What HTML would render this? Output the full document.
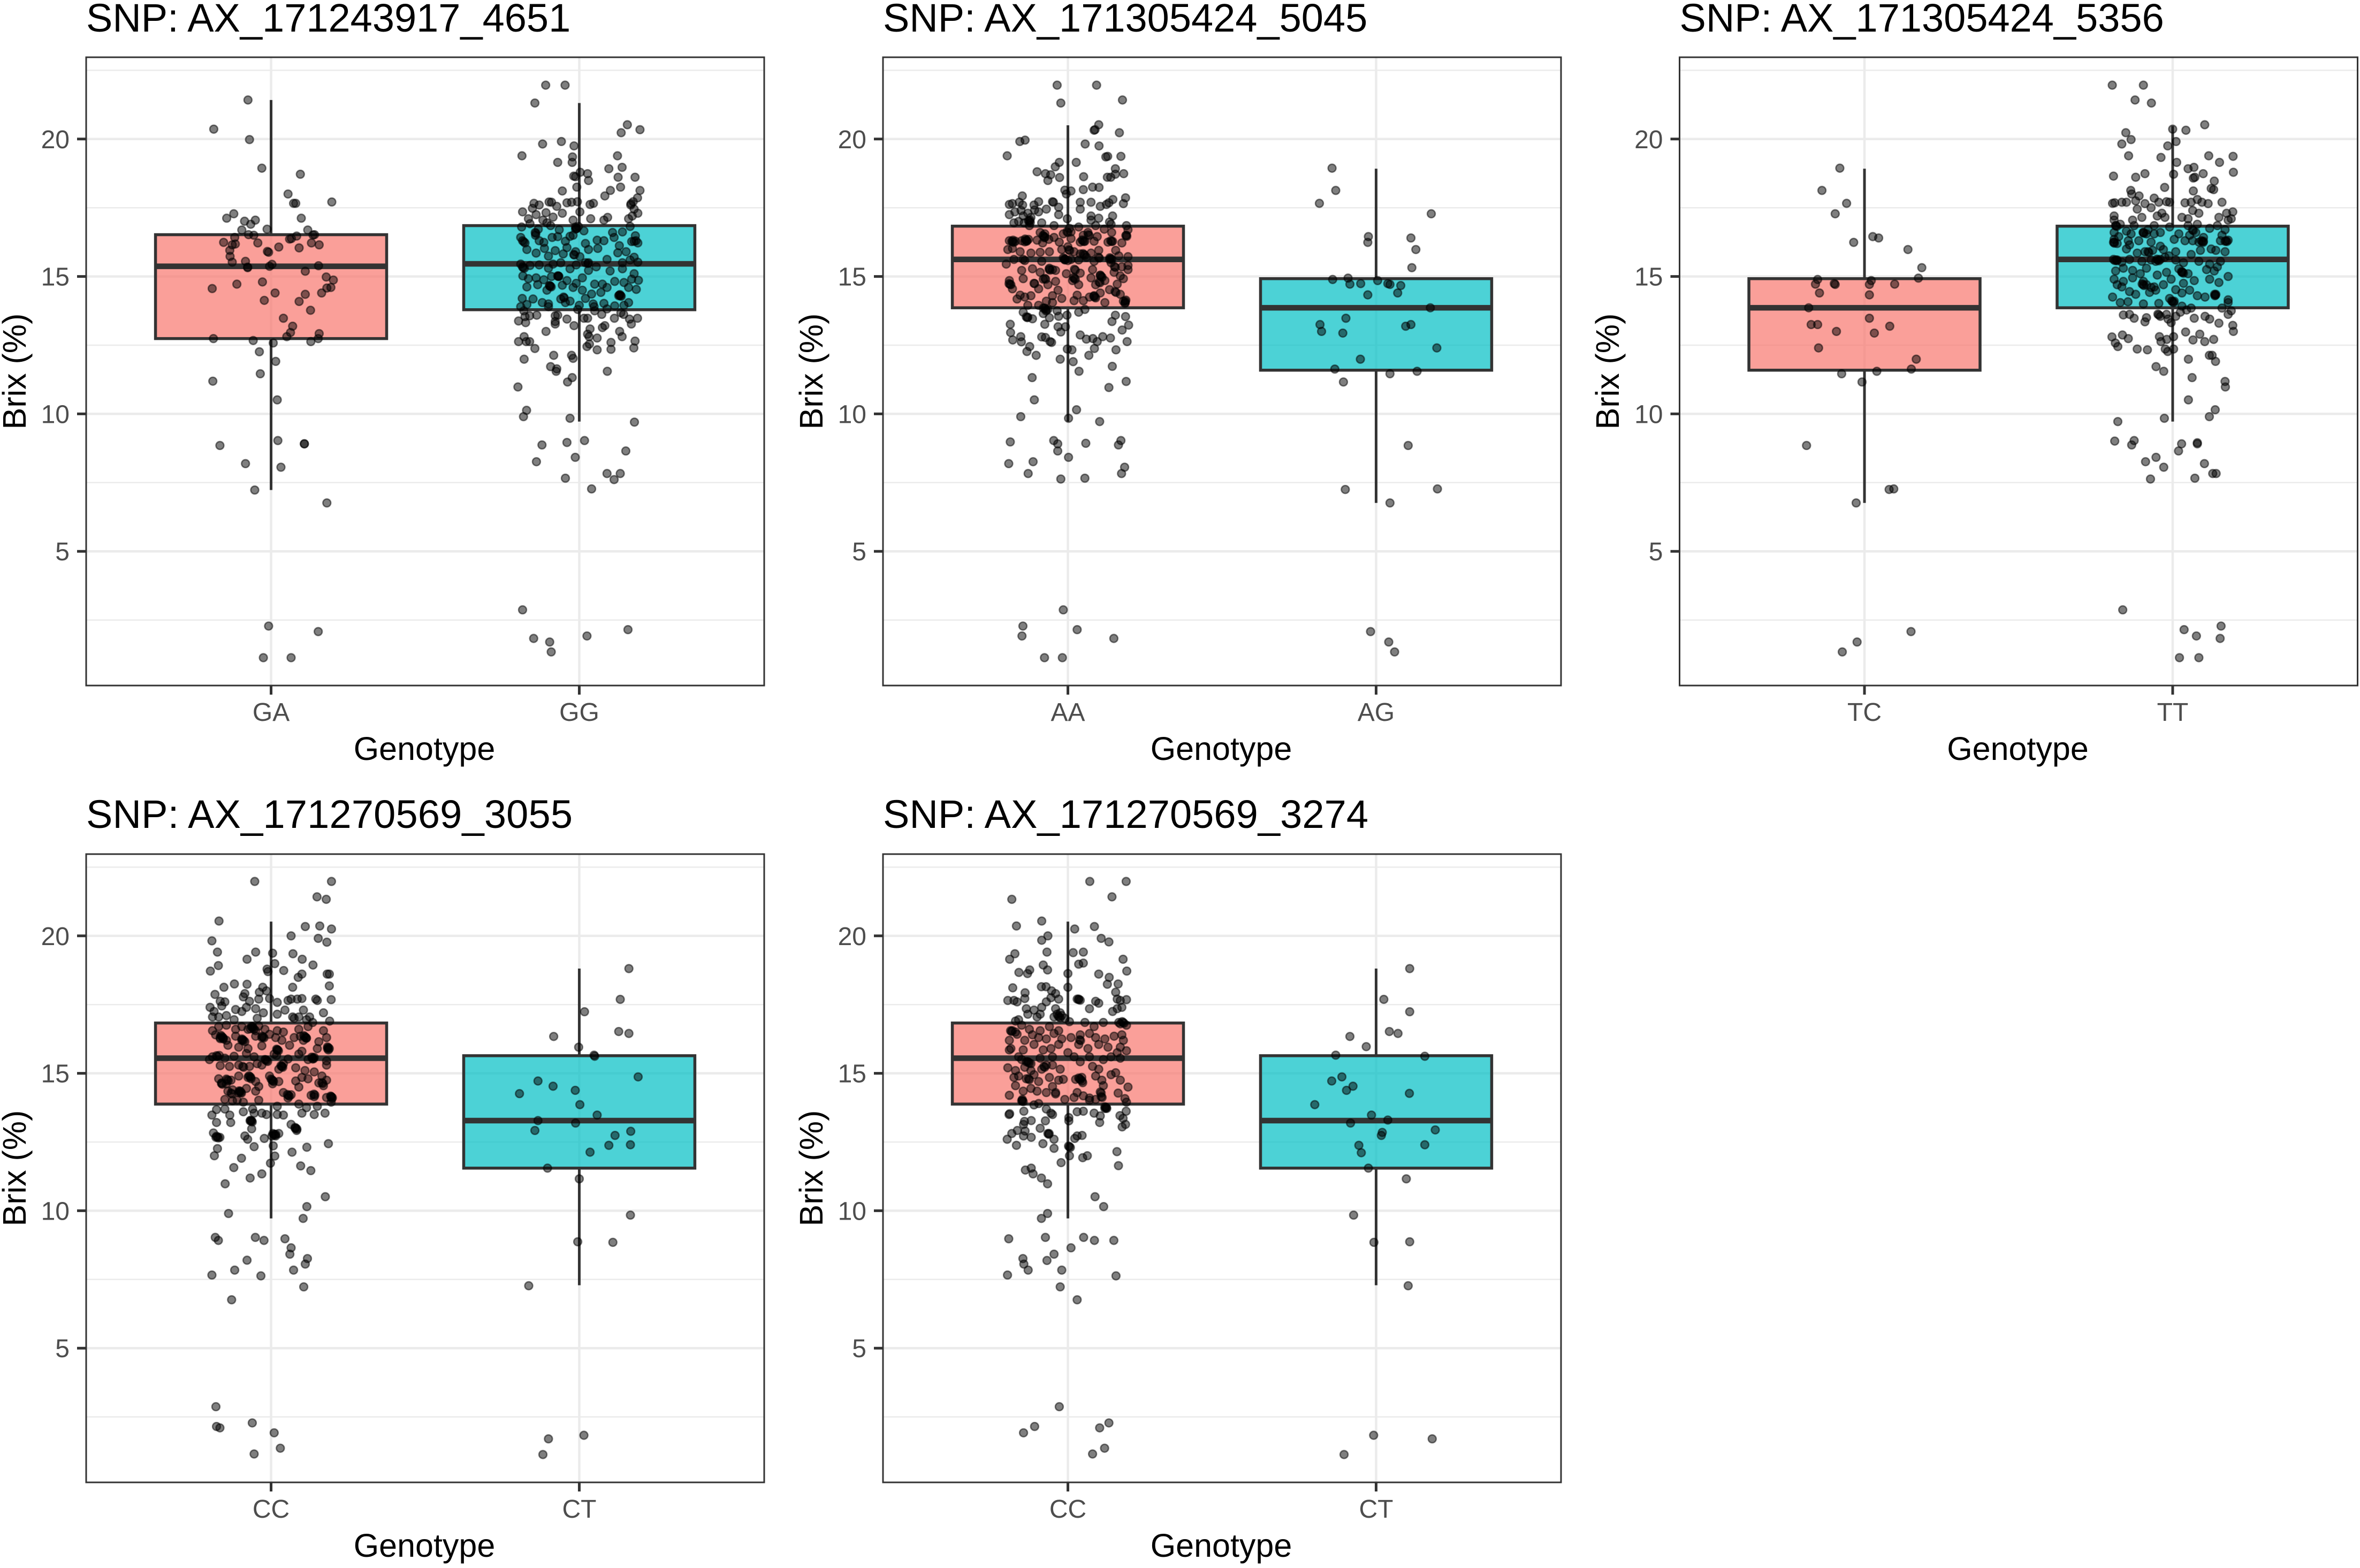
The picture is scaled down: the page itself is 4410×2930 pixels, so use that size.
<!DOCTYPE html>
<html lang="en">
<head>
<meta charset="utf-8">
<title>Brix by genotype for five SNPs</title>
<style>
html,body{margin:0;padding:0;background:#fff;}
svg{display:block;font-family:"Liberation Sans",Arial,sans-serif;}
.title{font-size:74px;fill:#000;}
.axis-title{font-size:61px;fill:#000;}
.tick-label{font-size:48px;fill:#4D4D4D;}
</style>
</head>
<body>
<svg id="chart" xmlns="http://www.w3.org/2000/svg" width="4410" height="2930" viewBox="0 0 4410 2930">
<rect x="0" y="0" width="4410" height="2930" fill="#ffffff"/>

<g>
  <g id="marks-0"></g>
  <text class="title" x="161" y="59">SNP: AX_171243917_4651</text>
  <text class="axis-title" x="793" y="1420" text-anchor="middle">Genotype</text>
  <text class="axis-title" transform="translate(48 694) rotate(-90)" text-anchor="middle">Brix (%)</text>
</g>
<g>
  <g id="marks-1"></g>
  <text class="title" x="1650" y="59">SNP: AX_171305424_5045</text>
  <text class="axis-title" x="2282" y="1420" text-anchor="middle">Genotype</text>
  <text class="axis-title" transform="translate(1537 694) rotate(-90)" text-anchor="middle">Brix (%)</text>
</g>
<g>
  <g id="marks-2"></g>
  <text class="title" x="3138.5" y="59">SNP: AX_171305424_5356</text>
  <text class="axis-title" x="3770.5" y="1420" text-anchor="middle">Genotype</text>
  <text class="axis-title" transform="translate(3025 694) rotate(-90)" text-anchor="middle">Brix (%)</text>
</g>
<g>
  <g id="marks-3"></g>
  <text class="title" x="161" y="1547" textLength="909" lengthAdjust="spacing">SNP: AX_171270569_3055</text>
  <text class="axis-title" x="793" y="2909" text-anchor="middle">Genotype</text>
  <text class="axis-title" transform="translate(48 2183) rotate(-90)" text-anchor="middle">Brix (%)</text>
</g>
<g>
  <g id="marks-4"></g>
  <text class="title" x="1650" y="1547" textLength="907" lengthAdjust="spacing">SNP: AX_171270569_3274</text>
  <text class="axis-title" x="2282" y="2909" text-anchor="middle">Genotype</text>
  <text class="axis-title" transform="translate(1537 2183) rotate(-90)" text-anchor="middle">Brix (%)</text>
</g>
</svg>

<script>
// ---------- axis labels ----------
const yTickValues = [5, 10, 15, 20];
const yMinorValues = [2.5, 7.5, 12.5, 17.5, 22.5];
const categoriesP1 = ['GA', 'GG'];
const categoriesP2 = ['AA', 'AG'];
const categoriesP3 = ['TC', 'TT'];
const categoriesP4 = ['CC', 'CT'];
const categoriesP5 = ['CC', 'CT'];

// ---------- box statistics: whisker low, Q1, median, Q3, whisker high ----------
const statsGA = [7.23, 12.74, 15.37, 16.52, 21.42];
const statsGG = [9.72, 13.79, 15.46, 16.85, 21.31];
const statsAA = [9.72, 13.86, 15.62, 16.83, 20.5];
const statsAG = [6.76, 11.59, 13.86, 14.92, 18.92];
const statsTC = [6.76, 11.59, 13.86, 14.92, 18.92];
const statsTT = [9.72, 13.86, 15.62, 16.83, 20.47];
const statsCC1 = [9.72, 13.88, 15.55, 16.83, 20.52];
const statsCT1 = [7.29, 11.55, 13.28, 15.64, 18.81];
const statsCC2 = [9.72, 13.88, 15.55, 16.83, 20.52];
const statsCT2 = [7.29, 11.55, 13.28, 15.64, 18.81];

// ---------- jittered observations: [horizontal jitter in category units, Brix %] ----------
const pointsGA = [[-.075,21.42],[-.186,20.36],[-.07,19.98],[-.03,18.94],[.095,18.72],[.055,18],[.073,17.66],[.08,17.66],[.197,17.71],[-.144,17.12],[-.121,17.28],[-.086,17.01],[-.051,17.05],[-.066,16.9],[.098,17.12],[-.095,16.69],[-.013,16.72],[.119,16.69],[.141,16.52],[.136,16.51],[-.073,16.52],[-.056,16.5],[.083,16.47],[.06,16.36],[.066,16.38],[-.118,16.42],[-.154,16.24],[-.126,16.15],[-.116,16.18],[-.043,16.22],[.025,16.07],[.131,16.22],[.156,16.15],[.091,16.04],[-.012,15.91],[-.008,15.88],[-.134,15.95],[-.133,15.73],[-.126,15.52],[-.083,15.55],[.003,15.44],[-.005,15.37],[-.076,15.34],[-.076,15.32],[.154,15.39],[.111,15.19],[.179,14.98],[.202,14.87],[.181,14.58],[.194,14.6],[-.191,14.56],[-.111,14.72],[-.028,14.8],[.164,14.4],[.013,14.4],[.111,14.35],[.091,14.09],[-.022,14.13],[.128,13.77],[.04,13.48],[.07,13.19],[.063,12.96],[.051,12.81],[.156,12.92],[.153,12.74],[.129,12.63],[-.187,12.74],[-.058,12.67],[.007,12.58],[-.038,12.26],[.015,11.91],[-.035,11.46],[-.189,11.19],[.02,10.51],[.022,9.03],[.108,8.91],[.108,8.91],[-.166,8.85],[-.083,8.19],[.032,8.06],[-.053,7.23],[.181,6.76],[-.008,2.28],[.153,2.08],[-.025,1.13],[.065,1.13]];

const pointsGG = [[-.109,21.96],[-.046,21.96],[-.144,21.31],[.156,20.52],[.136,20.23],[.197,20.34],[-.119,19.82],[-.058,19.91],[-.017,19.75],[-.186,19.39],[.124,19.39],[-.022,19.35],[-.023,19.15],[-.07,19.15],[.096,18.92],[.139,18.97],[.003,18.79],[.027,18.74],[-.018,18.65],[-.012,18.63],[.126,18.61],[.181,18.61],[.03,18.49],[-.008,18.25],[.134,18.25],[-.055,18.11],[.197,18.13],[.101,18.13],[.083,17.93],[.189,17.86],[.175,17.72],[.168,17.65],
[-.184,17.35],[-.147,17.66],[-.152,17.48],[-.13,17.6],[-.098,17.71],[-.09,17.7],[-.073,17.55],[-.04,17.68],[-.025,17.7],[-.006,17.72],[.035,17.62],[.046,17.66],[.092,17.15],[.167,17.6],[.178,17.45],[.19,17.3],[-.165,17.1],[-.14,17.25],[-.118,17.05],[-.108,17.32],[-.085,17.16],[-.055,17.3],[-.02,17.05],[.002,17.35],[.037,17.1],[.08,17.05],[.16,17.1],[.172,17.2],
[-.187,16.8],[-.16,16.92],[-.133,16.72],[-.105,16.95],[-.093,16.85],[-.065,16.7],[-.012,16.8],[-.008,16.75],[-.003,16.82],[.015,16.66],[.108,16.6],[.14,16.62],[.165,16.82],[.182,16.48],[-.19,16.42],[-.184,16.3],[-.18,16.26],[-.176,16.22],[-.142,16.5],[-.13,16.3],[-.115,16.24],[-.088,16.42],[-.07,16.45],[-.045,16.28],[-.03,16.46],[-.02,16.5],[.02,16.2],[.058,16.32],[.08,16.3],[.113,16.42],[.13,16.12],[.17,16.27],[.178,16.28],[.184,16.3],[.19,16.22],
[-.17,15.98],[-.14,15.85],[-.113,16.02],[-.1,15.74],[-.078,15.94],[-.052,15.82],[-.04,16.05],[-.012,15.9],[.002,15.72],[.03,15.98],[.06,16.02],[.09,15.62],[.125,15.86],[.14,15.5],[.152,15.9],[.165,15.6],[.178,15.7],[.19,15.52],[-.19,15.45],[-.178,15.3],[-.16,15.4],[-.13,15.42],[-.1,15.3],[-.085,15.45],[-.06,15.5],[-.03,15.28],[-.01,15.42],[.02,15.5],[.03,15.22],[.055,15.35],[.1,15.2],[.14,15.28],[.178,15.1],
[-.183,15.02],[-.165,14.92],[-.14,14.95],[-.115,14.88],[-.09,15],[-.068,15.02],[-.066,15],[-.04,14.85],[-.01,14.75],[.01,14.95],[.05,14.72],[.075,14.72],[.09,14.6],[.115,14.82],[.145,14.78],[.17,14.9],[.192,14.86],[-.17,14.62],[-.135,14.7],[-.105,14.5],[-.097,14.67],[-.094,14.64],[-.091,14.62],[-.055,14.68],[-.02,14.6],[.01,14.5],[.04,14.36],[.07,14.42],[.132,14.34],[.128,14.3],[.136,14.28],[.16,14.6],[.185,14.53],
[-.185,14.2],[-.17,13.98],[-.15,14.18],[-.12,14.05],[-.1,14],[-.06,14.18],[-.045,14.05],[-.03,14.1],[0,13.95],[.02,14.2],[.045,14],[.08,14.02],[.115,13.93],[.145,13.95],[.16,14.05],[-.19,13.9],[-.18,13.75],[-.1,13.9],[-.005,13.8],[.05,13.75],[.09,13.82],[.135,13.68],
[-.199,10.98],[-.023,11.32],[-.038,11.16],[.091,11.55],[-.093,11.72],[-.073,11.64],[-.075,11.55],[-.025,12.13],[-.02,12.02],[-.083,12.13],[-.179,11.99],[-.144,12.38],[-.172,12.63],[-.161,12.63],[-.197,12.63],[-.179,12.81],[.025,12.45],[.033,12.54],[.058,12.33],[.103,12.35],[.103,12.6],[.177,12.4],[.181,12.65],[.139,12.81],[.131,13],[.058,12.76],[.032,12.81],[.027,12.9],[.035,13.09],[.075,13.14],[.083,13.21],[-.108,13],[-.078,13.27],[-.078,13.36],[-.017,13.21],[-.197,13.38],[-.174,13.32],[-.176,13.54],[-.161,13.57],[-.138,13.59],[-.078,13.57],[-.07,13.59],[-.04,13.45],[.015,13.48],[.027,13.48],[.114,13.48],[.144,13.62],[.163,13.45],[.169,13.27],[.189,13.48],[.048,13.9],[.073,13.62],
[-.181,9.9],[-.171,10.13],[-.03,9.84],[.179,9.7],[-.121,8.87],[-.04,8.96],[.017,9.03],[.151,8.65],[-.013,8.42],[-.139,8.26],[.09,7.83],[.133,7.83],[-.045,7.66],[.113,7.61],[.04,7.27],[-.184,2.87],[.158,2.15],[.025,1.92],[-.148,1.83],[-.096,1.7],[-.091,1.34],
[-.01,16.75],[-.012,16.72],[-.068,15],[-.07,15.02],[-.095,14.66],[.13,14.32],[.134,14.3],[-.143,16.6],[-.141,16.57],[.03,15.5],[.028,15.47],[-.018,15.8],[-.016,15.78],[-.051,14.25],[-.049,14.22],[-.184,15.35],[-.182,15.32]];

const pointsAA = [[-.035,21.96],[.093,21.96],[-.023,21.31],[.177,21.42],[.1,20.52],[.088,20.34],[.085,20.32],[.167,20.23],[-.156,19.91],[-.139,19.96],[.056,19.82],[.101,19.75],[-.197,19.39],[.123,19.35],[.129,19.37],[.172,19.37],[.027,19.15],[-.028,19.15],[-.041,18.99],[.154,18.92],[-.1,18.81],[-.073,18.74],[-.056,18.7],[.181,18.74],[.154,18.72],[.139,18.61],[.128,18.61],[.051,18.63],[-.065,18.49],[-.027,18.6],[.08,18.25],[.101,18.24],[.05,18.16],[-.01,18.14],[.01,18.11],[-.005,18],[-.148,17.93],[.146,17.8],[.187,17.86],[.133,17.68],
[-.19,17.62],[-.18,17.65],[-.158,17.7],[-.147,17.6],[-.11,17.6],[-.095,17.72],[-.05,17.72],[-.047,17.7],[-.03,17.52],[.04,17.7],[.075,17.7],[.04,17.45],[.105,17.55],[.125,17.62],[.18,17.65],[-.19,17.25],[-.172,17.35],[-.152,17.4],[-.145,17.2],[-.13,17.3],[-.12,17.15],[-.108,17.42],[-.095,17.35],[-.07,17.45],[-.03,17.25],[-.002,17.1],[.075,17.2],[.1,17.12],[.145,17.2],[.075,17.05],[.135,16.98],
[-.175,16.95],[-.16,17],[-.142,16.95],[-.125,16.85],[-.085,16.95],[-.045,16.85],[.005,16.75],[.035,16.8],[.09,16.85],[.14,16.9],[.19,16.85],[.195,16.7],[-.09,16.6],[-.075,16.55],[-.015,16.55],[.01,16.62],[.05,16.5],[.065,16.6],[.095,16.45],[.118,16.72],[.142,16.6],[.19,16.5],[-.19,16.3],[-.178,16.32],[-.17,16.28],[-.15,16.3],[-.14,16.26],[-.128,16.35],[-.1,16.32],[-.082,16.22],[-.062,16.35],[-.045,16.42],[-.028,16.25],[.01,16.38],[.04,16.25],[.055,16.28],[.085,16.28],[.13,16.25],[.145,16.28],[.175,16.22],
[-.195,15.98],[-.18,16.02],[-.155,15.9],[-.12,15.85],[-.09,15.88],[-.06,15.9],[-.02,15.98],[0,16.08],[.02,15.9],[.04,15.82],[.075,15.85],[.1,15.95],[.155,15.95],[.165,15.75],[.195,15.72],[-.2,15.45],[-.175,15.62],[-.145,15.62],[-.14,15.58],[-.085,15.55],[-.05,15.25],[-.01,15.62],[0,15.58],[.01,15.62],[.035,15.6],[.06,15.7],[.085,15.55],[.135,15.62],[.14,15.5],[.175,15.35],[.195,15.4],
[-.15,15.22],[-.115,15.28],[-.09,15.15],[-.06,15.3],[-.04,15.22],[-.005,15.1],[.04,15.12],[.08,15.25],[.105,15.05],[.15,15.15],[.17,15.02],[.195,15.25],[-.19,14.85],[-.185,14.7],[-.145,14.92],[-.11,14.75],[-.08,14.9],[-.065,14.7],[-.04,14.82],[.015,14.85],[.035,14.7],[.075,14.95],[.09,14.7],[.12,14.85],[.16,14.72],[.18,14.92],[-.18,14.55],[-.155,14.32],[-.14,14.25],[-.12,14.3],[-.095,14.55],[-.05,14.3],[-.032,14.5],[-.02,14.2],[.03,14.32],[.07,14.25],[.085,14.3],[.105,14.4],[.135,14.52],[.17,14.35],
[-.165,14.18],[-.13,13.95],[-.095,13.95],[-.08,13.85],[-.07,14.1],[-.065,13.8],[-.05,14.05],[.02,14.12],[.05,14.12],[.12,14.05],[.18,14.1],[.185,14.02],[-.145,13.7],[-.13,13.52],[-.115,13.46],[-.08,13.65],[-.06,13.5],[-.03,13.55],[-.035,13.75],[.035,13.7],[.055,13.8],
[-.187,13.26],[-.186,12.96],[-.179,12.69],[-.153,12.81],[-.151,12.62],[-.133,12.27],[-.124,12.45],[-.103,12.13],[-.085,12.8],[-.073,12.78],[-.058,12.63],[-.053,12.6],[-.075,13.26],[-.032,13.17],[-.023,12.98],[-.008,13.17],[-.003,13.59],[.04,12.87],[.06,12.72],[.081,12.74],[.095,12.63],[.113,12.81],[.138,12.76],[.192,12.63],[.176,13.05],[.197,13.23],[.154,13.59],[.143,13.36],[.187,13.54],[.086,12.38],[.156,12.33],[.068,12.13],[-.002,12.36],[.013,12.33],[-.025,11.99],[.017,11.9],[.036,11.55],[.144,11.73],[-.116,11.32],[.133,10.96],[.189,11.18],[-.109,10.51],[.028,10.15],[-.153,9.9],[.002,9.84],[.103,9.72],[-.187,8.98],[-.046,9.03],[-.033,8.91],[-.033,8.65],[.058,8.93],[.172,9.03],[.164,8.87],[.002,8.42],[-.192,8.19],[-.113,8.26],[.184,8.06],[-.129,7.83],[.174,7.83],[-.023,7.63],[.055,7.66],[-.015,2.87],[-.146,2.28],[.03,2.15],[-.149,1.92],[.149,1.83],[-.076,1.13],[-.018,1.13],
[-.179,16.26],[-.176,16.24],[-.182,16.28],[-.136,16.33],[-.133,16.3],[-.139,16.36],[-.134,16.28],[-.078,16.46],[-.075,16.43],[-.081,16.49],[-.076,16.41],[-.125,17],[-.122,16.96],[-.128,17.03],[-.123,17.05],[-.012,15.65],[-.009,15.62],[-.015,15.68],[-.01,15.6],[.049,16.3],[.052,16.27],[.046,16.33],[.052,15.8],[.055,15.77],[.049,15.83],[.139,15.65],[.142,15.62],[.136,15.68],[.099,15.7],[.102,15.67],[.108,15],[.111,14.97],[.105,15.03],[.101,14.8],[.104,14.77],[.021,14.93],[.024,14.9],[.018,14.96],[.153,14.45],[.156,14.42],[.186,14.1],[.186,14.05],[.188,14.14],[.087,14.25],[.09,14.22],[.084,14.28],[-.073,13.82],[-.07,13.78],[-.076,13.85],[-.071,13.75],[-.135,13.53],[-.132,13.5],[-.075,14.93],[-.072,14.9],[-.191,14.74],[-.188,14.71],[-.108,14.74],[-.061,15.26],[-.058,15.23],[.021,15.26],[.024,15.23],[.151,15.36],[.154,15.33],[.139,16.3],[.142,16.27],[.188,16.49],[.191,16.46],[-.003,16.63],[0,16.6],[.066,16.52],[.069,16.49],[.003,15.97],[.006,15.94]];

const pointsAG = [[-.143,18.94],[-.131,18.13],[-.184,17.66],[.179,17.28],[-.025,16.45],[-.027,16.24],[.113,16.4],[.129,15.98],[.116,15.32],[-.141,14.89],[-.091,14.94],[-.085,14.72],[-.05,14.74],[.005,14.85],[.038,14.74],[.045,14.71],[.08,14.67],[.07,14.4],[-.027,14.33],[.176,13.86],[-.098,13.48],[-.182,13.25],[-.177,13],[-.108,12.94],[.096,13.19],[.113,13.25],[.197,12.4],[-.051,11.99],[-.134,11.63],[.045,11.46],[.133,11.55],[-.106,11.16],[.104,8.85],[-.1,7.25],[.199,7.27],[.045,6.76],[-.018,2.08],[.041,1.7],[.06,1.34]];

const pointsTC = [[-.08,18.94],[-.138,18.13],[-.058,17.66],[-.095,17.28],[-.035,16.24],[.027,16.45],[.046,16.4],[.141,15.98],[.186,15.32],[.175,14.94],[-.152,14.89],[-.159,14.72],[-.098,14.74],[-.095,14.71],[.022,14.85],[.016,14.71],[.098,14.72],[-.146,14.4],[.016,14.33],[-.181,13.86],[.016,13.48],[-.173,13.25],[-.152,13.25],[.082,13.19],[-.091,13],[.032,12.94],[-.149,12.4],[.168,11.99],[.152,11.63],[-.074,11.46],[.04,11.55],[-.008,11.16],[-.188,8.85],[.08,7.25],[.095,7.27],[-.027,6.76],[.151,2.08],[-.024,1.7],[-.072,1.34]];

const pointsTT = [[-.196,21.96],[-.095,21.96],[-.122,21.42],[-.069,21.31],[.104,20.52],[0,20.36],[.043,20.32],[-.152,20.23],[-.135,19.98],[-.165,19.82],[.011,19.91],[-.016,19.75],[-.143,19.39],[-.038,19.33],[.117,19.39],[.196,19.37],[.152,19.15],[.013,19.15],[.05,18.92],[.069,18.97],[.197,18.79],[-.09,18.74],[.099,18.74],[.003,18.72],[-.192,18.65],[-.12,18.61],[.072,18.61],[.067,18.58],[.135,18.47],[-.026,18.24],[.133,18.16],[.125,18.2],[-.136,18.13],[-.133,18],[.067,18.11],[-.109,17.93],[.08,17.8],
[-.195,17.66],[-.188,17.68],[-.165,17.7],[-.15,17.7],[-.12,17.75],[-.09,17.65],[-.06,17.85],[-.045,17.7],[-.02,17.72],[-.01,17.7],[.04,17.68],[.06,17.7],[.095,17.7],[.115,17.65],[.16,17.7],[-.19,17.2],[-.19,17.05],[-.13,17.05],[-.115,17.45],[-.1,17.15],[-.07,17.5],[-.05,17.2],[-.035,17.3],[-.025,17.15],[.03,17.15],[.05,17.1],[.065,17.4],[.085,17.3],[.15,17.15],[.175,17.3],[.195,17.35],[.19,17.1],[.18,17.05],
[-.185,16.85],[-.17,16.9],[-.15,16.65],[-.125,16.85],[-.08,16.7],[-.06,16.85],[-.01,16.8],[.05,16.85],[.08,16.9],[.12,16.75],[.145,16.85],[.17,16.7],[-.19,16.6],[-.175,16.45],[-.135,16.55],[-.095,16.6],[-.085,16.55],[-.06,16.55],[-.04,16.6],[.02,16.55],[.055,16.5],[.075,16.6],[.1,16.42],[.16,16.5],[-.19,16.35],[-.19,16.25],[-.18,16.2],[-.14,16.15],[-.11,16.3],[-.07,16.25],[-.04,16.1],[.005,16.35],[.04,16.3],[.065,16.3],[.085,16.25],[.1,16.28],[.155,16.3],[.17,16.28],[.18,16.32],
[-.15,16],[-.115,15.85],[-.09,15.9],[-.065,15.95],[-.03,15.98],[.01,15.9],[.06,15.8],[.09,15.95],[.125,16],[.14,15.95],[.17,15.9],[-.192,15.62],[-.188,15.58],[-.18,15.6],[-.165,15.52],[-.14,15.62],[-.1,15.55],[-.07,15.6],[-.055,15.55],[-.04,15.62],[-.025,15.7],[-.012,15.75],[.01,15.6],[.035,15.5],[.085,15.55],[.12,15.45],[.145,15.35],[.155,15.55],
[-.185,15.2],[-.16,15.3],[-.13,15.22],[-.105,15.1],[-.085,15.3],[-.05,15.05],[-.02,15.15],[.02,15.28],[.03,15.15],[.05,15.1],[.11,15.25],[.135,15.2],[.18,15],[-.19,14.9],[-.18,14.7],[-.16,14.82],[-.13,14.95],[-.095,14.82],[-.085,14.7],[-.07,14.6],[-.06,14.62],[-.03,14.7],[-.005,14.9],[.035,14.75],[.07,14.85],[.12,14.9],[.15,14.78],[-.195,14.25],[-.165,14.62],[-.14,14.45],[-.12,14.35],[-.075,14.42],[-.055,14.5],[.01,14.52],[.03,14.4],[.055,14.5],[.08,14.3],[.105,14.25],[.14,14.35],[.137,14.3],[.18,14.15],[.18,14.05],
[-.17,14.05],[-.145,14.08],[-.095,14],[-.045,14.02],[-.01,14.2],[.005,14.1],[.03,13.92],[.06,13.85],[.16,13.85],[.19,13.75],[-.16,13.6],[-.14,13.62],[-.125,13.48],[-.09,13.35],[-.085,13.5],[-.04,13.55],[-.02,13.62],[-.015,13.45],[-.005,13.32],[.01,13.55],[.025,13.7],[.045,13.78],[.07,13.48],[.105,13.55],[.12,13.45],[.15,13.3],[.18,13.62],[.195,13.22],[.197,13],
[-.197,12.8],[-.163,12.87],[-.186,12.58],[-.178,12.45],[-.144,12.74],[-.115,12.36],[-.082,12.33],[-.043,12.81],[-.019,12.71],[.003,12.81],[-.038,12.63],[-.024,12.36],[-.016,12.27],[.003,12.36],[.042,12.98],[.088,12.9],[.066,12.69],[.104,12.63],[.133,12.71],[.051,11.99],[.119,12.13],[.128,12.13],[.139,11.91],[-.054,11.72],[-.029,11.55],[.063,11.32],[.17,11.18],[.171,10.98],[.051,10.51],[.138,10.15],[.119,9.9],[-.027,9.84],[-.178,9.72],[-.188,9.01],[-.125,9.03],[-.133,8.87],[.029,8.91],[.08,8.95],[.08,8.91],[.019,8.65],[-.054,8.42],[-.088,8.26],[.103,8.19],[-.029,8.06],[.13,7.83],[.141,7.83],[-.072,7.63],[.072,7.66],[-.162,2.87],[.157,2.28],[.037,2.15],[.077,1.92],[.154,1.83],[.022,1.13],[.085,1.13],
[-.192,16.24],[-.189,16.21],[-.184,15.6],[-.181,15.57],[-.048,15.6],[-.045,15.57],[-.051,15.63],[-.08,15.9],[-.077,15.87],[-.096,14.7],[-.093,14.67],[-.099,14.73],[.032,15.15],[.035,15.12],[.029,15.18],[.096,16.27],[.099,16.24],[.093,16.3],[0,14.08],[.003,14.05],[-.003,14.11],[-.048,13.63],[-.045,13.6],[-.144,16.3],[-.184,16.85],[-.181,16.82],[.173,16.3],[.176,16.27],[.136,14.35],[.139,14.32],[-.096,16.6],[-.093,16.57],[.064,16.7],[.067,16.67]];

const pointsCC1 = [[-.053,21.98],[.196,21.98],[.149,21.42],[.179,21.33],[-.169,20.54],[.111,20.34],[.158,20.36],[.196,20.25],[.065,20],[-.192,19.82],[.153,19.91],[.181,19.77],[-.174,19.41],[-.05,19.41],[.005,19.37],[.071,19.35],[-.078,19.15],[.101,19.15],[-.171,18.92],[.012,18.99],[.136,18.94],[-.197,18.72],[-.01,18.7],[-.013,18.79],[.041,18.74],[.1,18.61],[.088,18.49],[.182,18.61],[.189,18.61],[-.119,18.25],[-.078,18.24],[-.153,18.13],[-.027,18.13],[.07,18.13],[.189,18.18],[-.038,17.95],[-.015,18],[-.085,17.9],[-.182,17.87],
[-.165,17.62],[-.15,17.6],[-.09,17.78],[-.07,17.62],[-.04,17.7],[-.005,17.72],[.02,17.58],[.055,17.65],[.065,17.7],[.085,17.7],[.1,17.72],[.145,17.7],[.15,17.65],[.195,17.68],[-.198,17.4],[-.185,17.25],[-.16,17.45],[-.115,17.32],[-.095,17.25],[-.08,17.4],[-.05,17.35],[-.025,17.2],[.02,17.15],[.045,17.3],[.07,17.05],[.09,17.05],[.105,17.3],[.125,17.05],[.17,17.2],[.19,16.9],[-.19,17.05],[-.17,17.05],[-.145,17.1],[-.12,16.95],[-.045,17],[.075,17],[.115,16.95],[.135,16.85],
[-.19,16.55],[-.17,16.7],[-.145,16.75],[-.115,16.6],[-.095,16.7],[-.075,16.6],[-.06,16.7],[-.05,16.55],[-.04,16.72],[-.02,16.6],[.02,16.55],[.04,16.5],[.09,16.6],[.12,16.7],[.17,16.55],[-.18,16.4],[-.165,16.3],[-.155,16.25],[-.145,16.2],[-.115,16.35],[-.095,16.2],[-.085,16.15],[-.05,16.35],[-.03,16.3],[-.005,16.42],[.015,16.3],[.035,16.2],[.075,16.3],[.095,16.35],[.105,16.2],[.115,16.28],[.155,16.15],[.18,16.3],[-.14,16.02],[-.105,15.95],[-.075,15.9],[-.03,16],[.02,15.85],[.06,16.02],[.1,15.8],[.15,15.9],[.183,15.9],[.186,15.85],
[-.19,15.6],[-.168,15.65],[-.15,15.55],[-.12,15.62],[-.08,15.72],[-.055,15.6],[-.02,15.5],[.01,15.7],[.018,15.65],[.055,15.52],[.09,15.7],[.12,15.5],[.135,15.52],[.14,15.58],[.18,15.45],[-.2,15.5],[-.165,15.28],[-.135,15.25],[-.105,15.3],[-.07,15.25],[-.045,15.35],[-.03,15.3],[.025,15.15],[.035,15.25],[.04,15.35],[.08,15.2],[.11,15.1],[.14,15.05],[.18,15.3],[-.17,14.8],[-.16,14.65],[-.145,14.62],[-.13,14.75],[-.105,14.9],[-.075,14.85],[-.065,14.8],[-.05,14.7],[-.005,14.9],[.005,14.62],[.025,14.7],[.08,14.72],[.1,14.85],[.12,14.8],[.165,14.9],[.18,14.75],[.17,14.55],[.155,14.65],
[-.14,14.35],[-.125,14.4],[-.105,14.3],[-.1,14.35],[-.08,14.45],[-.05,14.35],[-.04,14.52],[.04,14.3],[.055,14.1],[.09,14.5],[.065,14.22],[.13,14.2],[.14,14.15],[.18,14.12],[.195,14.15],[.197,14.08],[-.15,14.05],[-.125,14],[-.11,14.02],[-.09,13.95],[-.04,14.02],[.02,13.8],[.09,13.88],[.115,13.75],[.15,13.8],[.195,13.95],
[-.192,13.48],[-.177,13.68],[-.134,13.48],[-.131,13.21],[-.177,13.21],[-.15,13.7],[-.09,13.6],[-.06,13.7],[-.055,13.55],[-.03,13.55],[-.015,13.5],[.02,13.5],[.04,13.48],[.1,13.55],[.14,13.5],[.175,13.55],[-.187,12.83],[-.179,12.67],[-.166,12.67],[-.085,12.72],[-.076,12.6],[-.068,13.27],[-.063,13.27],[-.063,12.98],[-.022,12.63],[.003,12.72],[.015,12.78],[.025,12.81],[.078,13],[.083,12.92],[.065,13.14],[.116,12.31],[.186,12.44],[-.055,12.33],[.007,12.36],[-.174,12.26],[-.184,12],[.012,11.99],[.068,12.13],[-.096,11.91],[-.002,11.73],[-.121,11.57],[.096,11.63],[.129,11.46],[-.03,11.34],[-.068,11.19],[-.149,10.98],[.176,10.51],[.116,10.15],[-.138,9.9],[.104,9.72],[-.181,9.03],[-.171,8.92],[-.051,9.03],[-.023,8.92],[.045,8.98],[.065,8.65],[.061,8.42],[.118,8.26],[.111,8.06],[-.078,8.2],[-.118,7.84],[.073,7.84],[-.192,7.66],[-.033,7.63],[.106,7.23],[-.128,6.76],[-.179,2.87],[-.061,2.28],[-.177,2.15],[-.166,2.1],[.01,1.92],[.03,1.36],[-.055,1.15],
[-.061,16.67],[-.058,16.64],[-.064,16.7],[-.055,16.6],[-.067,16.62],[-.16,16.34],[-.157,16.3],[-.163,16.38],[-.155,16.28],[-.165,16.26],[-.092,16.22],[-.089,16.19],[-.095,16.25],[-.026,16.32],[-.023,16.29],[-.029,16.35],[.109,16.34],[.112,16.31],[.106,16.37],[.114,16.28],[.186,15.93],[.189,15.9],[.183,15.96],[.021,15.85],[.024,15.82],[.018,15.88],[.135,15.56],[.138,15.53],[.132,15.59],[-.014,15.46],[-.011,15.43],[-.017,15.49],[-.177,15.64],[-.174,15.61],[-.092,15.25],[-.089,15.22],[.035,15.25],[.038,15.22],[.032,15.28],[.003,14.76],[.006,14.73],[0,14.79],[.008,14.7],[-.069,14.88],[-.066,14.85],[-.072,14.91],[-.142,14.76],[-.139,14.73],[-.145,14.79],[-.161,14.63],[-.158,14.6],[-.101,14.33],[-.098,14.3],[-.104,14.36],[-.096,14.28],[-.13,14.28],[-.127,14.25],[.056,14.2],[.059,14.17],[.053,14.23],[.196,14.14],[.199,14.11],[.193,14.17],[.139,14.24],[.142,14.21],[-.064,13.26],[-.061,13.23],[-.067,13.29],[.081,13],[.084,12.97],[.078,13.03],[.009,12.78],[.012,12.75],[.006,12.81],[.015,12.72],[-.174,12.68],[-.171,12.65],[-.177,12.71],[.165,14.66],[.168,14.63]];

const pointsCT1 = [[.161,18.81],[.133,17.69],[.017,17.24],[-.083,16.34],[.128,16.52],[.161,16.45],[-.002,15.95],[.048,15.66],[.05,15.62],[.191,14.87],[-.134,14.72],[-.085,14.53],[-.194,14.26],[-.013,14.38],[.002,13.86],[.058,13.48],[-.134,13.28],[-.012,13.19],[-.144,12.92],[.167,12.89],[.116,12.74],[.166,12.4],[.096,12.38],[.035,12.13],[-.103,11.55],[0,11.16],[.166,9.84],[-.005,8.87],[.109,8.85],[-.164,7.27],[.015,1.83],[-.1,1.7],[-.118,1.13]];

const pointsCC2 = [[.071,21.98],[.189,21.98],[-.182,21.33],[.143,21.42],[-.085,20.54],[-.167,20.36],[.022,20.25],[.086,20.34],[-.065,20],[-.085,19.84],[.108,19.91],[.133,19.78],[-.172,19.35],[-.189,19.15],[-.068,19.41],[.017,19.39],[.05,19.41],[.179,19.15],[-.08,18.94],[.035,18.97],[.05,19.01],[-.159,18.67],[-.131,18.63],[-.124,18.76],[-.066,18.76],[0,18.63],[.191,18.72],[.1,18.61],[.134,18.49],[.128,18.24],[.163,18.25],[-.179,18.11],[-.086,18.15],[-.071,18.15],[0,18.13],[-.139,17.93],[-.053,18],[.155,17.95],[-.04,17.9],
[-.195,17.65],[-.175,17.65],[-.165,17.6],[-.14,17.72],[-.07,17.6],[-.055,17.75],[-.03,17.7],[.03,17.7],[.035,17.68],[.04,17.66],[.09,17.62],[.1,17.55],[.16,17.7],[.17,17.65],[.19,17.68],[-.135,17.35],[-.11,17.3],[-.085,17.4],[-.04,17.35],[-.025,17.2],[.07,17.35],[.145,17.25],[.16,17.35],[.175,17.4],[-.13,17.15],[-.1,17.05],[-.09,17.15],[-.045,17.05],[-.035,17.15],[-.02,17.1],[-.01,17],
[-.17,16.9],[-.16,16.95],[-.18,16.55],[-.17,16.5],[-.15,16.75],[-.125,16.6],[-.09,16.55],[-.06,16.7],[-.03,16.55],[.005,16.88],[.055,16.85],[.085,16.7],[.115,16.85],[.165,16.85],[.17,16.8],[.19,16.75],[-.19,16.2],[-.165,16.42],[-.14,16.2],[-.115,16.4],[-.095,16.3],[-.07,16.25],[-.045,16.45],[-.02,16.25],[.01,16.3],[.04,16.4],[.07,16.45],[.09,16.3],[.12,16.25],[.15,16.35],[.175,16.4],[.18,16.2],
[-.19,15.85],[-.185,15.9],[-.145,15.85],[-.11,16.05],[-.08,15.85],[-.055,15.9],[-.03,16.05],[0,15.75],[.035,16.05],[.065,15.9],[.1,16.05],[.13,15.95],[.17,15.95],[.16,15.75],[.19,15.82],[-.16,15.6],[-.15,15.5],[-.135,15.42],[-.12,15.35],[-.09,15.55],[-.05,15.6],[-.05,15.3],[.02,15.6],[.04,15.42],[.07,15.6],[.115,15.5],[.14,15.6],[.17,15.55],[.08,15.25],[.1,15.15],[-.195,15.2],[-.17,15.1],[-.14,15.22],[-.12,15.1],[-.085,15.15],[-.07,15.3],[-.025,15.15],
[-.175,14.85],[-.16,14.9],[-.135,14.8],[-.11,14.95],[-.095,14.7],[-.06,14.85],[-.03,14.75],[-.015,14.78],[.025,14.78],[.045,14.85],[.046,14.72],[.048,14.66],[.09,14.9],[.14,14.95],[.155,15.02],[.11,14.75],[.17,14.75],[-.17,14.55],[-.145,14.35],[-.12,14.45],[-.1,14.35],[-.07,14.3],[-.05,14.52],[-.04,14.3],[.03,14.3],[.05,14.18],[.07,14.1],[.105,14.32],[.108,14.28],[.115,14.55],[.163,14.28],[.195,14.5],[-.19,14.2],[-.15,14],[-.148,14.05],[-.11,13.85],[-.095,13.9],[-.04,14.25],[-.01,14.05],[.02,14.12],[.07,14.02],[.09,14.05],[.125,13.75],[.12,13.72],[.185,14.08],[.19,13.95],
[-.189,13.53],[-.143,13.62],[-.191,13.5],[-.141,13.25],[-.119,13.28],[-.144,13.14],[-.073,13.27],[-.07,13.7],[-.055,13.55],[-.05,13.5],[.03,13.6],[.05,13.62],[.085,13.55],[.105,13.45],[.169,13.46],[.179,13.36],[.189,13.62],[.187,13.14],[.176,13.05],[.103,13.21],[-.09,13],[-.061,12.81],[-.139,12.9],[-.164,12.92],[-.182,12.81],[-.197,12.6],[-.167,12.38],[-.144,12.72],[-.119,12.67],[-.045,12.6],[-.081,12.44],[-.045,12.27],[.003,13.39],[.003,13.27],[.03,12.72],[.022,12.63],[.046,12.74],[.002,12.35],[.005,12],[-.022,11.75],[.048,11.93],[.063,12],[.159,12.15],[.164,11.64],[-.138,11.48],[-.119,11.55],[-.113,11.34],[-.086,11.19],[-.066,10.98],[.088,10.51],[.116,10.15],[-.066,9.9],[-.086,9.72],[-.192,8.98],[-.073,9.03],[.051,9.03],[.086,8.92],[.149,8.92],[.01,8.65],[-.045,8.42],[-.068,8.19],[-.146,8.26],[-.143,8.06],[-.129,7.84],[-.02,7.84],[-.196,7.66],[.156,7.63],[-.025,7.23],[.03,6.76],[-.028,2.87],[.133,2.28],[.103,2.1],[-.108,2.15],[-.144,1.92],[.119,1.36],[.08,1.15],
[.038,14.8],[.041,14.77],[.035,14.83],[.108,14.15],[.111,14.12],[.123,13.75],[.126,13.72],[.12,13.78],[-.148,14],[-.145,13.97],[-.128,15.4],[-.125,15.37],[-.131,15.43],[.038,16.22],[.041,16.19],[.179,16.85],[.182,16.82],[.176,16.88],[.005,12.33],[.008,12.3],[-.065,12.81],[-.062,12.78],[-.186,16.55],[-.183,16.52],[-.128,14.8],[-.125,14.77],[-.028,17.05],[-.025,17.02],[-.031,17.08],[.035,17.7],[-.078,15.25],[-.075,15.22]];

const pointsCT2 = [[.109,18.81],[.025,17.69],[.109,17.24],[-.085,16.34],[.043,16.52],[.071,16.45],[-.032,15.97],[-.131,15.66],[.158,15.62],[-.111,14.87],[-.144,14.72],[-.075,14.53],[-.096,14.38],[.108,14.27],[-.199,13.86],[-.015,13.48],[.038,13.3],[-.083,13.19],[.192,12.94],[.02,12.85],[.017,12.74],[.158,12.4],[-.056,12.38],[-.048,12.11],[-.025,11.55],[.098,11.16],[-.073,9.84],[-.007,8.85],[.109,8.87],[.104,7.27],[-.008,1.83],[.182,1.7],[-.104,1.13]];

// ---------- panel series wiring (data only) ----------
const panelCategories = [categoriesP1, categoriesP2, categoriesP3, categoriesP4, categoriesP5];
const panelStats = [[statsGA, statsGG], [statsAA, statsAG], [statsTC, statsTT], [statsCC1, statsCT1], [statsCC2, statsCT2]];
const panelPoints = [[pointsGA, pointsGG], [pointsAA, pointsAG], [pointsTC, pointsTT], [pointsCC1, pointsCT1], [pointsCC2, pointsCT2]];

// ---------- layout ----------
const NS = 'http://www.w3.org/2000/svg';
const PANEL_W = 1267;
const PANEL_H = 1174;
const panelLeft = [161, 1650, 3138.5, 161, 1650];
const panelTop = [107, 107, 107, 1596, 1596];
const UNIT = 51.36;
const FILLS = ['#F8766D', '#00BFC4'];

function yScale(panel, v) {
  // Brix 20 sits 152.8px under the panel top
  return panelTop[panel] + 152.8 + (20 - v) * UNIT;
}
function xScale(panel, c) {
  // discrete axis: categories 1 and 2 on a 0.4..2.6 range
  return panelLeft[panel] + (c - 0.4) / 2.2 * PANEL_W;
}
function make(parent, tag, attrs) {
  const el = document.createElementNS(NS, tag);
  for (const k in attrs) el.setAttribute(k, attrs[k]);
  parent.appendChild(el);
  return el;
}

for (let p = 0; p < 5; p++) {
  const root = document.getElementById('marks-' + p);
  const L = panelLeft[p], T = panelTop[p], R = L + PANEL_W, B = T + PANEL_H;

  const bg = make(root, 'rect', {x: L, y: T, width: PANEL_W, height: PANEL_H, fill: '#ffffff'});
  
  

  yMinorValues.forEach(function (v) {
    const g = make(root, 'line', {x1: L, x2: R, y1: yScale(p, v), y2: yScale(p, v), stroke: '#EBEBEB', 'stroke-width': 2.5});
    
    
  });
  yTickValues.forEach(function (v) {
    const g = make(root, 'line', {x1: L, x2: R, y1: yScale(p, v), y2: yScale(p, v), stroke: '#EBEBEB', 'stroke-width': 4.5});
    
    
  });
  panelCategories[p].forEach(function (name, i) {
    const x = xScale(p, i + 1);
    const g = make(root, 'line', {x1: x, x2: x, y1: T, y2: B, stroke: '#EBEBEB', 'stroke-width': 4.5});
    
    
  });

  panelStats[p].forEach(function (s, i) {
    const cx = xScale(p, i + 1);
    const left = xScale(p, i + 1 - 0.375), right = xScale(p, i + 1 + 0.375);
    const whiskerLow = make(root, 'line', {x1: cx, x2: cx, y1: yScale(p, s[1]), y2: yScale(p, s[0]), stroke: '#333333', 'stroke-width': 5});
    
    
    const whiskerHigh = make(root, 'line', {x1: cx, x2: cx, y1: yScale(p, s[3]), y2: yScale(p, s[4]), stroke: '#333333', 'stroke-width': 5});
    
    
    const box = make(root, 'rect', {x: left, y: yScale(p, s[3]), width: right - left, height: yScale(p, s[1]) - yScale(p, s[3]), fill: FILLS[i], 'fill-opacity': 0.7, stroke: '#333333', 'stroke-width': 5.5});
    
    
    const median = make(root, 'line', {x1: left, x2: right, y1: yScale(p, s[2]), y2: yScale(p, s[2]), stroke: '#333333', 'stroke-width': 10.5});
    
    
  });

  panelPoints[p].forEach(function (pts, i) {
    pts.forEach(function (pt) {
      const dot = make(root, 'circle', {cx: xScale(p, i + 1 + pt[0]), cy: yScale(p, pt[1]), r: 7.4, fill: '#000000', 'fill-opacity': 0.5, stroke: '#000000', 'stroke-opacity': 0.5, 'stroke-width': 2.6});
      
      
    });
  });

  const frame = make(root, 'rect', {x: L, y: T, width: PANEL_W, height: PANEL_H, fill: 'none', stroke: '#333333', 'stroke-width': 3});
  
  

  yTickValues.forEach(function (v) {
    const y = yScale(p, v);
    const tick = make(root, 'line', {x1: L - 17, x2: L, y1: y, y2: y, stroke: '#333333', 'stroke-width': 5});
    
    
    const lab = make(root, 'text', {x: L - 31, y: y + 17, 'text-anchor': 'end', 'class': 'tick-label'});
    lab.textContent = String(v);
    
    
  });
  panelCategories[p].forEach(function (name, i) {
    const x = xScale(p, i + 1);
    const tick = make(root, 'line', {x1: x, x2: x, y1: B, y2: B + 17, stroke: '#333333', 'stroke-width': 5});
    
    
    const lab = make(root, 'text', {x: x, y: B + 66, 'text-anchor': 'middle', 'class': 'tick-label'});
    lab.textContent = name;
    
    
  });
}
</script>
</body>
</html>
